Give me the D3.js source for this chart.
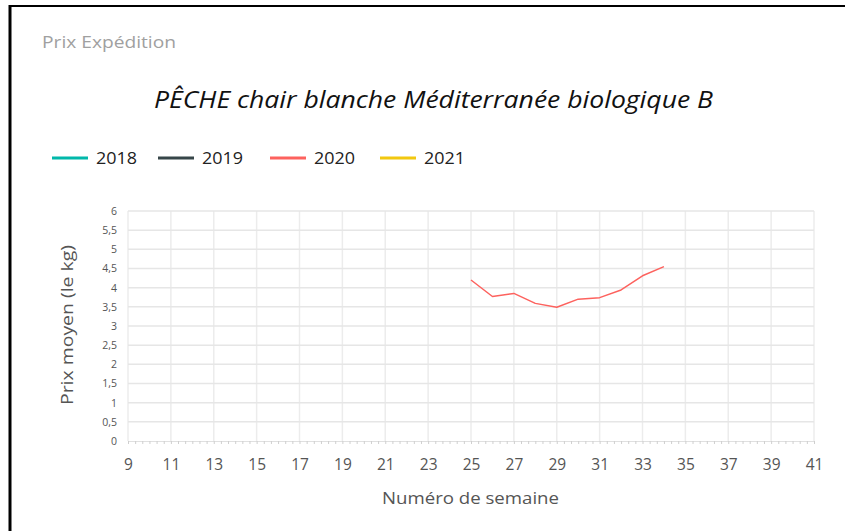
<!DOCTYPE html>
<html><head><meta charset="utf-8">
<script src="https://cdn.jsdelivr.net/npm/d3@7"></script>
<style>
html,body{margin:0;padding:0;background:#fff;}
svg{display:block;font-family:"Open Sans","Noto Sans",sans-serif;}
</style></head>
<body>
<svg id="c" width="845" height="531"></svg>
<script>
const seriesNames = ["2018","2019","2020","2021"];
const seriesColors = ["#01B8AA","#374649","#FD625E","#F2C80F"];
const weeks2020 = [25,26,27,28,29,30,31,32,33,34];
const values2020 = [4.20,3.77,3.85,3.59,3.49,3.70,3.74,3.94,4.31,4.55];
const xTicks = [9,11,13,15,17,19,21,23,25,27,29,31,33,35,37,39,41];
const yTicks = [0,0.5,1,1.5,2,2.5,3,3.5,4,4.5,5,5.5,6];
const yTickLabels = ["0","0,5","1","1,5","2","2,5","3","3,5","4","4,5","5","5,5","6"];

const svg = d3.select("#c");
// frame
svg.append("line").attr("x1",10).attr("x2",845).attr("y1",6).attr("y2",6).attr("stroke","#000").attr("stroke-width",2);
svg.append("line").attr("x1",10).attr("x2",10).attr("y1",5).attr("y2",531).attr("stroke","#000").attr("stroke-width",3);

svg.append("text").attr("x",42).attr("y",48).attr("fill","#a0a0a0").attr("font-size",16)
  .attr("textLength",134).attr("lengthAdjust","spacingAndGlyphs").text("Prix Expédition");
svg.append("text").attr("x",154).attr("y",108).attr("font-style","italic")
  .attr("fill","#111").attr("font-size",24).attr("textLength",559).attr("lengthAdjust","spacingAndGlyphs")
  .text("PÊCHE chair blanche Méditerranée biologique B");

// legend
const legX = [52,158,270,380];
seriesNames.forEach((n,i)=>{
  svg.append("line").attr("x1",legX[i]).attr("x2",legX[i]+36).attr("y1",158).attr("y2",158)
    .attr("stroke",seriesColors[i]).attr("stroke-width",3);
  svg.append("text").attr("x",legX[i]+44).attr("y",164).attr("fill","#222").attr("font-size",16)
    .attr("textLength",41).attr("lengthAdjust","spacingAndGlyphs").text(n);
});

const x = d3.scaleLinear().domain([9,41]).range([128,814]);
const y = d3.scaleLinear().domain([0,6]).range([441,211]);

// grid
const g = svg.append("g");
g.selectAll(".vg").data(xTicks).join("line").attr("x1",d=>x(d)).attr("x2",d=>x(d))
  .attr("y1",y(6)).attr("y2",y(0)).attr("stroke","#ececec").attr("stroke-width",1.5);
g.selectAll(".hg").data(yTicks.filter(d=>d>0)).join("line").attr("x1",x(9)).attr("x2",x(41))
  .attr("y1",d=>y(d)).attr("y2",d=>y(d)).attr("stroke","#e6e6e6").attr("stroke-width",1.5);

// x axis baseline with minor ticks
const xAxis = d3.axisBottom(x).tickValues(d3.range(9,41.01,1/3)).tickSize(3).tickFormat("");
const xa = svg.append("g").attr("transform",`translate(0,${y(0)})`).call(xAxis);
xa.select(".domain").attr("stroke","#e0e0e0");
xa.selectAll(".tick line").attr("stroke","#cfcfcf");

const xLab = d3.axisBottom(x).tickValues(xTicks).tickSize(0).tickPadding(18);
const xl = svg.append("g").attr("transform",`translate(0,${y(0)})`).call(xLab);
xl.select(".domain").remove();
xl.selectAll("text").attr("font-size",15.5).attr("fill","#555").attr("font-family","'Open Sans',sans-serif");

const yAx = d3.axisLeft(y).tickValues(yTicks).tickSize(0).tickPadding(11).tickFormat((d,i)=>yTickLabels[i]);
const ya = svg.append("g").attr("transform",`translate(${x(9)},0)`).call(yAx);
ya.select(".domain").remove();
ya.selectAll("text").attr("font-size",10.5).attr("fill","#555").attr("font-family","'Open Sans',sans-serif");

svg.append("text").attr("x",382).attr("y",504).attr("fill","#555").attr("font-size",17)
  .attr("textLength",177).attr("lengthAdjust","spacingAndGlyphs").text("Numéro de semaine");
svg.append("text").attr("transform","translate(73,405) rotate(-90)").attr("fill","#555").attr("font-size",17)
  .attr("textLength",160).attr("lengthAdjust","spacingAndGlyphs").text("Prix moyen  (le kg)");

// series
const line = d3.line().x(d=>x(d[0])).y(d=>y(d[1]));
svg.append("path").datum(weeks2020.map((w,i)=>[w,values2020[i]])).attr("d",line)
  .attr("fill","none").attr("stroke",seriesColors[2]).attr("stroke-width",1.5).attr("stroke-linejoin","round");
</script>
</body></html>
